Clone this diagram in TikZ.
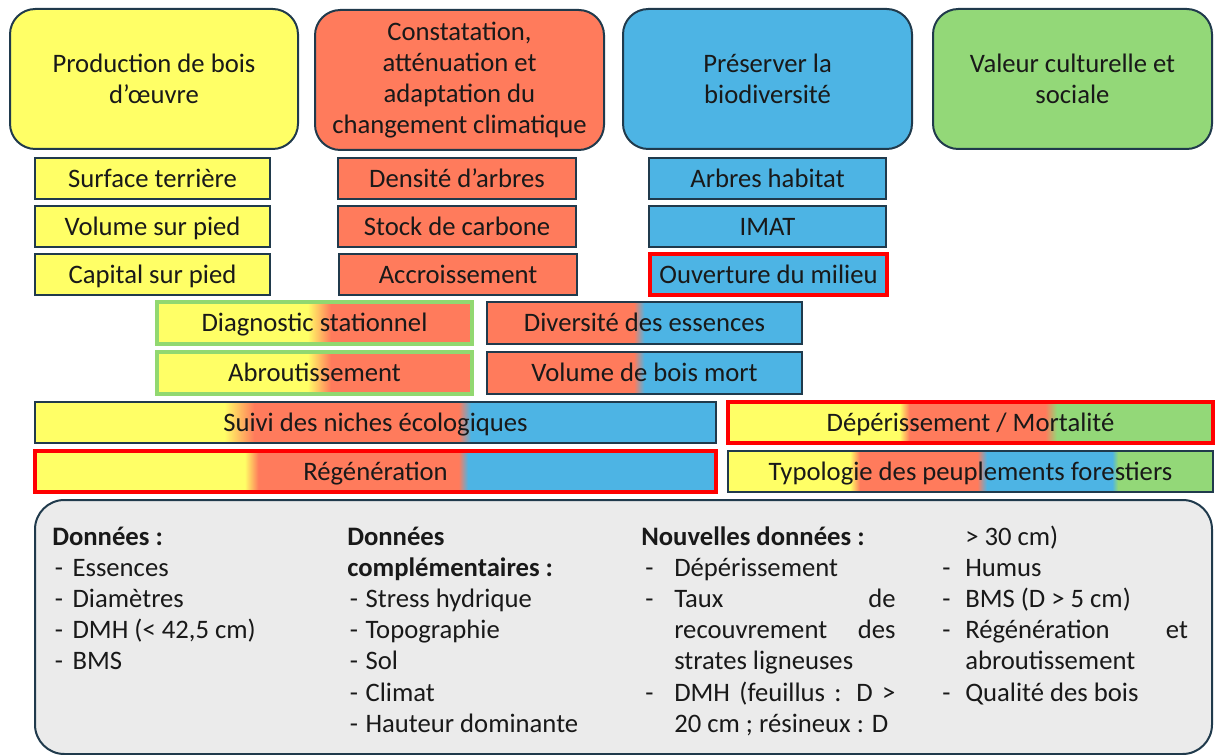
\documentclass[tikz,border=0pt]{standalone}
\usepackage{fontspec}
\setmainfont{Carlito}
\usepackage{array}
\definecolor{jaune}{HTML}{FFFF66}
\definecolor{rouge}{HTML}{FF7B5C}
\definecolor{bleu}{HTML}{4DB4E4}
\definecolor{vert}{HTML}{93D878}
\definecolor{contour}{HTML}{203A4C}
\definecolor{alerte}{HTML}{FF0000}
\definecolor{cadrevert}{HTML}{92D870}
\definecolor{fond}{HTML}{EBEBEB}
% degrades horizontaux : la boite occupe 25bp--75bp
\pgfdeclarehorizontalshading{diagnostic}{100bp}{color(0bp)=(jaune); color(48.9bp)=(jaune); color(52.6bp)=(rouge); color(100bp)=(rouge)}
\pgfdeclarehorizontalshading{diversite}{100bp}{color(0bp)=(rouge); color(48.3bp)=(rouge); color(50bp)=(bleu); color(100bp)=(bleu)}
\pgfdeclarehorizontalshading{suivi}{100bp}{color(0bp)=(jaune); color(38.9bp)=(jaune); color(41.1bp)=(rouge); color(56.1bp)=(rouge); color(57bp)=(bleu); color(100bp)=(bleu)}
\pgfdeclarehorizontalshading{regeneration}{100bp}{color(0bp)=(jaune); color(40.4bp)=(jaune); color(41.4bp)=(rouge); color(56.1bp)=(rouge); color(56.8bp)=(bleu); color(100bp)=(bleu)}
\pgfdeclarehorizontalshading{deperissement}{100bp}{color(0bp)=(jaune); color(42.7bp)=(jaune); color(43.7bp)=(rouge); color(57.7bp)=(rouge); color(58.9bp)=(vert); color(100bp)=(vert)}
\pgfdeclarehorizontalshading{typologie}{100bp}{color(0bp)=(jaune); color(37.6bp)=(jaune); color(38.6bp)=(rouge); color(50.7bp)=(rouge); color(51.7bp)=(bleu); color(64.6bp)=(bleu); color(65.2bp)=(vert); color(100bp)=(vert)}
\newcommand\etale[1]{\makebox[\linewidth][s]{#1}}
\begin{document}
\begin{tikzpicture}[x=0.75pt,y=-0.75pt,
	font=\fontsize{20}{23.4}\selectfont,text=black!90,
	titre/.style={draw=contour,line width=1.5pt,rounded corners=19pt,align=center,inner sep=0pt},
	indic/.style={draw=contour,line width=1.5pt,inner sep=0pt,text height=17pt,text depth=4pt},
	alert/.style={draw=alerte,line width=2.5pt},
	cadrev/.style={draw=cadrevert,line width=2.5pt},
	taille/.style 2 args={minimum width=#1*0.75pt,minimum height=#2*0.75pt}]
	\useasboundingbox (0,0) rectangle (1221,755);
	% les quatre enjeux
	\node[titre,fill=jaune,taille={288}{140}] (prod) at (154,79) {Production de bois\\d’œuvre};
	\node[titre,fill=rouge,taille={289}{140}] (climat) at (459.5,80) {Constatation,\\atténuation et\\adaptation du\\changement climatique};
	\node[titre,fill=bleu,taille={289}{140}] (biodiv) at (767.5,79) {Préserver la\\biodiversité};
	\node[titre,fill=vert,taille={279}{140}] (social) at (1072.5,79) {Valeur culturelle et\\sociale};
	% indicateurs simples
	\node[indic,fill=jaune,taille={235}{41}] (surface) at (152.5,178.5) {Surface terrière};
	\node[indic,fill=jaune,taille={235}{41}] (volume) at (152.5,226.5) {Volume sur pied};
	\node[indic,fill=jaune,taille={235}{41}] (capital) at (152.5,274.5) {Capital sur pied};
	\node[indic,fill=rouge,taille={238}{41}] (densite) at (457,178.5) {Densité d’arbres};
	\node[indic,fill=rouge,taille={238}{41}] (stock) at (457,226.5) {Stock de carbone};
	\node[indic,fill=rouge,taille={238}{41}] (accroiss) at (458,274.5) {Accroissement};
	\node[indic,fill=bleu,taille={237}{41}] (habitat) at (767.5,178.5) {Arbres habitat};
	\node[indic,fill=bleu,taille={237}{41}] (imat) at (767.5,226.5) {IMAT};
	\node[indic,alert,fill=bleu,taille={237}{41}] (ouverture) at (768.5,274.5) {Ouverture du milieu};
	% indicateurs partages
	\node[indic,cadrev,shade,shading=diagnostic,taille={315}{42}] (diag) at (314.5,323) {Diagnostic stationnel};
	\node[indic,cadrev,shade,shading=diagnostic,taille={315}{42}] (abrout) at (314.5,373) {Abroutissement};
	\node[indic,shade,shading=diversite,taille={315}{42}] (divers) at (644.5,323) {Diversité des essences};
	\node[indic,shade,shading=diversite,taille={315}{42}] (boismort) at (644.5,373) {Volume de bois mort};
	\node[indic,shade,shading=suivi,taille={681}{41}] (niches) at (375.5,422.5) {Suivi des niches écologiques};
	\node[indic,alert,shade,shading=regeneration,taille={681}{41}] (regen) at (375.5,471.5) {Régénération};
	\node[indic,alert,shade,shading=deperissement,taille={485}{41}] (deper) at (970.5,422.5) {Dépérissement / Mortalité};
	\node[indic,shade,shading=typologie,taille={485}{41}] (typo) at (970.5,471.5) {Typologie des peuplements forestiers};
	% cadre des donnees
	\node[draw=contour,fill=fond,line width=1.5pt,rounded corners=22pt,taille={1177}{254}] (donnees) at (623.5,627) {};
	\node[anchor=north west,inner sep=0pt] (col1) at (52,523) {\begin{tabular}{@{}>{\hspace{2pt}}p{15.25pt}@{}p{200pt}@{}}
		\multicolumn{2}{@{}l}{\textbf{Données :}}\\
		-&Essences\\
		-&Diamètres\\
		-&DMH (< 42,5 cm)\\
		-&BMS
	\end{tabular}};
	\node[anchor=north west,inner sep=0pt] (col2) at (347,523) {\begin{tabular}{@{}>{\hspace{2pt}}p{13.75pt}@{}p{200pt}@{}}
		\multicolumn{2}{@{}l}{\textbf{Données}}\\
		\multicolumn{2}{@{}l}{\textbf{complémentaires :}}\\
		-&Stress hydrique\\
		-&Topographie\\
		-&Sol\\
		-&Climat\\
		-&Hauteur dominante
	\end{tabular}};
	\node[anchor=north west,inner sep=0pt] (col3) at (641,523) {\begin{tabular}{@{}>{\hspace{3pt}}p{24.75pt}@{}p{166pt}@{}}
		\multicolumn{2}{@{}l}{\textbf{Nouvelles données :}}\\
		-&Dépérissement\\
		-&\etale{Taux de}\\
		&\etale{recouvrement des}\\
		&strates ligneuses\\
		-&\etale{DMH (feuillus : D >}\\
		&20 cm ; résineux : D
	\end{tabular}};
	\node[anchor=north west,inner sep=0pt] (col4) at (938,523) {\begin{tabular}{@{}>{\hspace{3pt}}p{20.25pt}@{}p{167pt}@{}}
		&> 30 cm)\\
		-&Humus\\
		-&BMS (D > 5 cm)\\
		-&\etale{Régénération et}\\
		&abroutissement\\
		-&Qualité des bois
	\end{tabular}};
\end{tikzpicture}
\end{document}
